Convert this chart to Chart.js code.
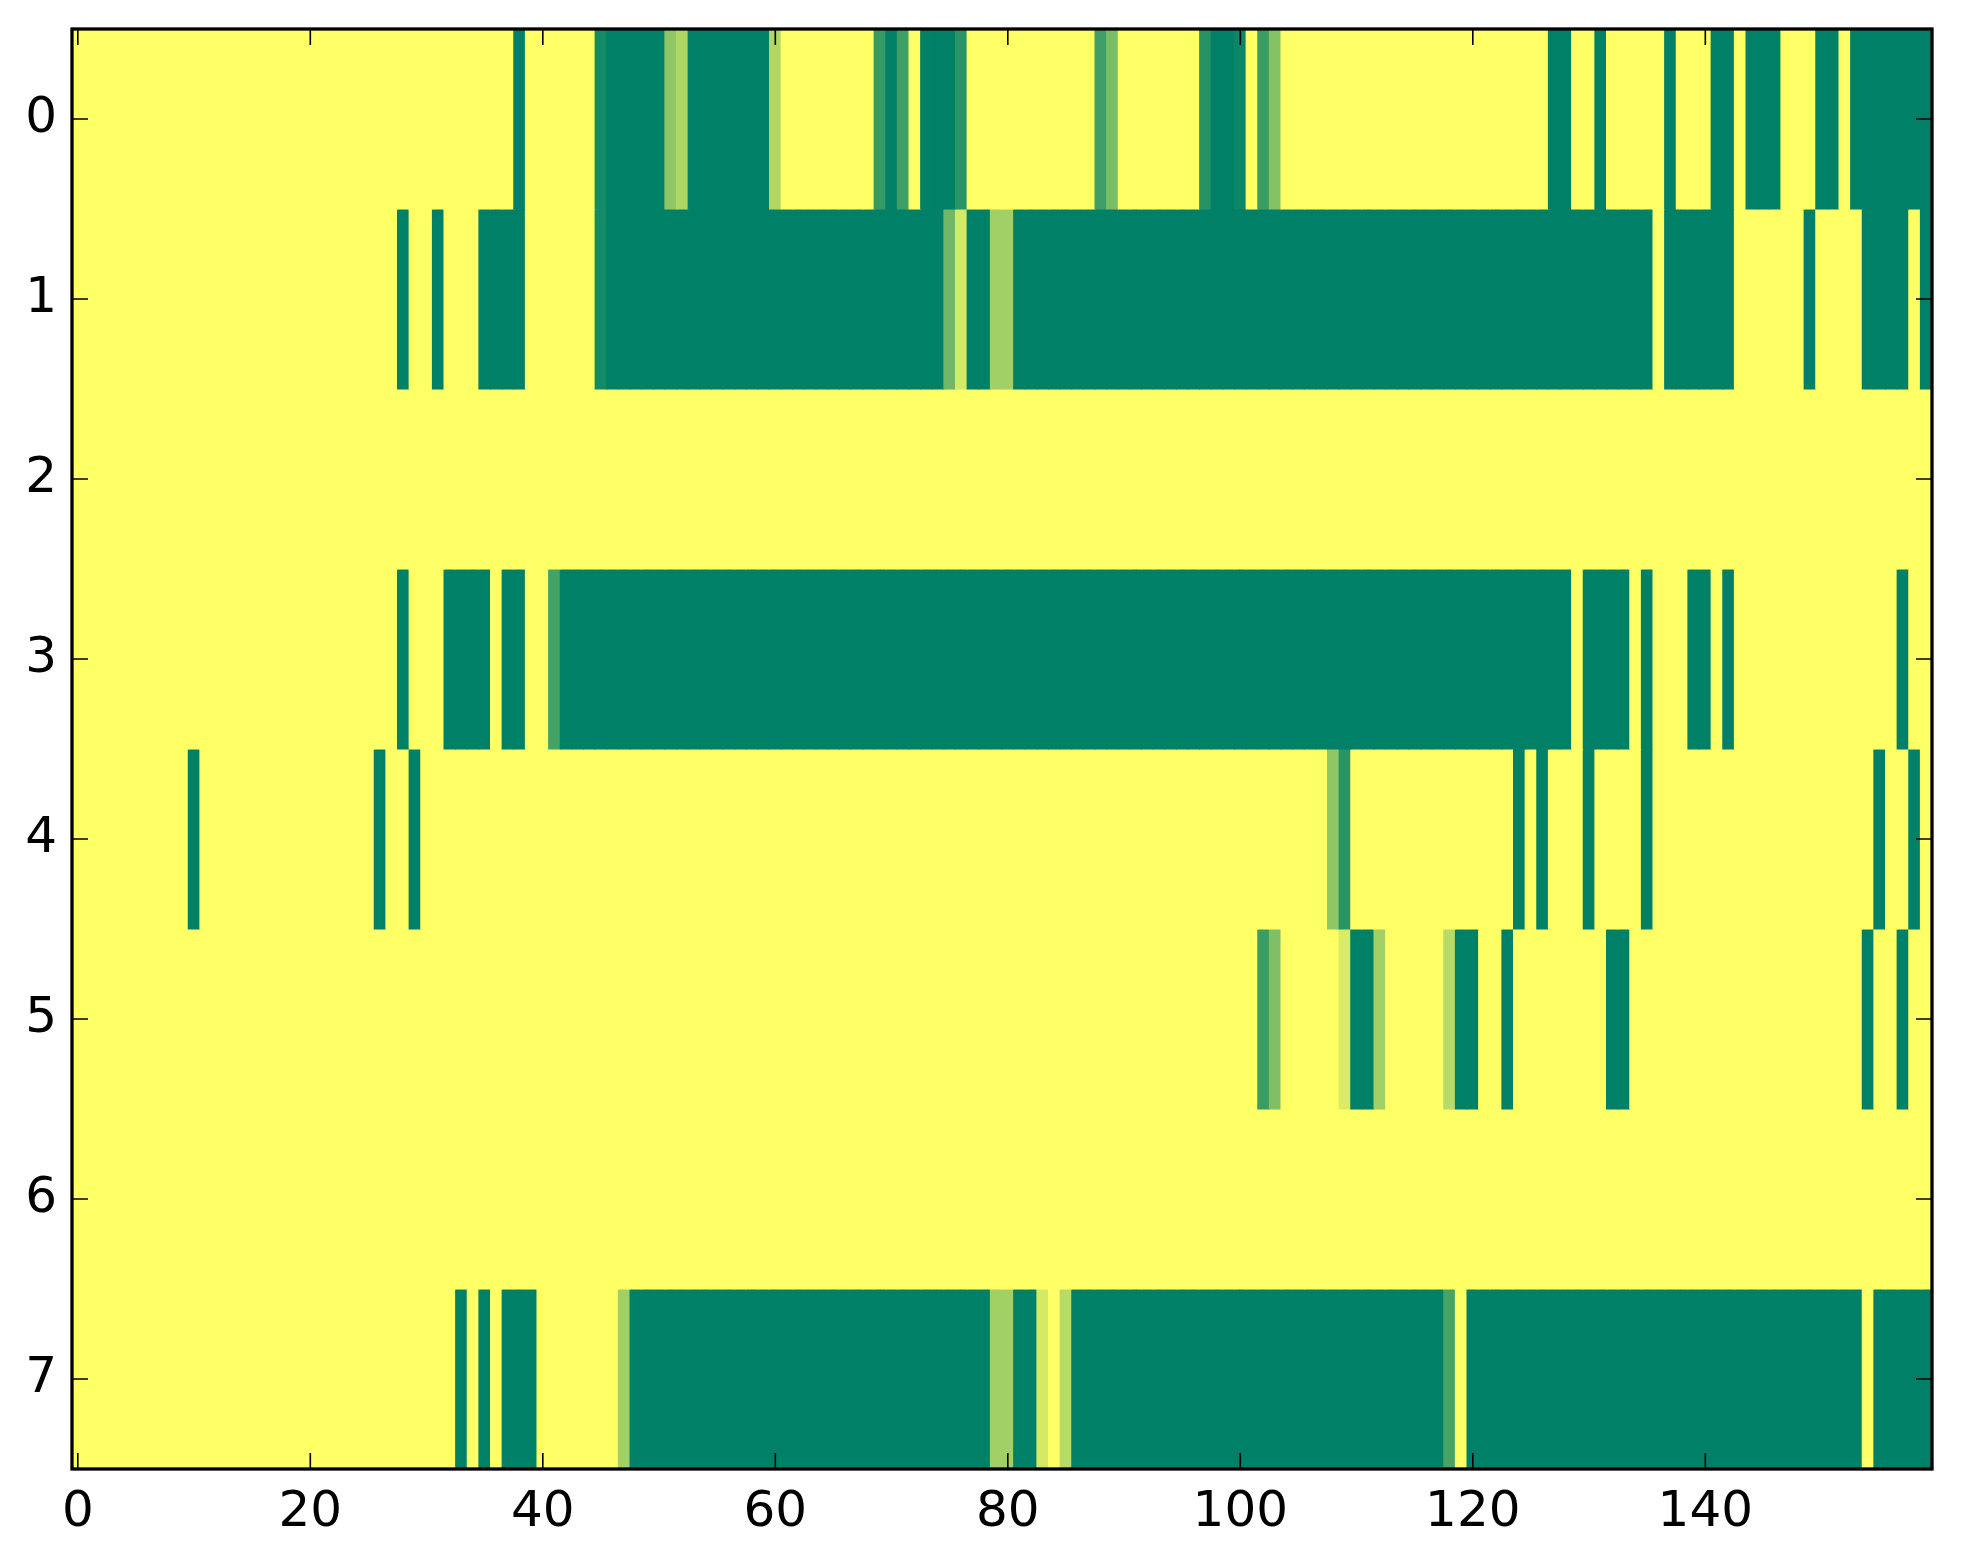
<!DOCTYPE html>
<html>
<head>
<meta charset="utf-8">
<script src="https://cdn.jsdelivr.net/npm/chart.js@4.4.1/dist/chart.umd.min.js"></script>
<style>
  html, body { margin: 0; padding: 0; background: #fff; }
  #wrap { width: 1963px; height: 1564px; }
</style>
</head>
<body>
<div id="wrap"><canvas id="heat"></canvas></div>
<script>
// tick labels
const xTicks = [0, 20, 40, 60, 80, 100, 120, 140];
const yTicks = [0, 1, 2, 3, 4, 5, 6, 7];

// one array per row, 160 columns each (0 = dark green, 1 = yellow)
const row0 = [
  1,1,1,1,1,1,1,1,1,1,1,1,1,1,1,1,1,1,1,1,
  1,1,1,1,1,1,1,1,1,1,1,1,1,1,1,1,1,1,0,1,
  1,1,1,1,1,0.08,0,0,0,0,0,0.56,0.69,0,0,0,0,0,0,0,
  0.69,1,1,1,1,1,1,1,1,0.21,0,0.25,1,0.02,0,0,0.16,1,1,1,
  1,1,1,1,1,1,1,1,0.25,0.48,1,1,1,1,1,1,1,0.15,0,0,
  0.05,1,0.23,0.52,1,1,1,1,1,1,1,1,1,1,1,1,1,1,1,1,
  1,1,1,1,1,1,1,0,0,1,1,0,1,1,1,1,1,0,1,1,
  1,0,0,1,0,0,0,1,1,1,0,0,1,0,0,0,0,0,0,0
];
const row1 = [
  1,1,1,1,1,1,1,1,1,1,1,1,1,1,1,1,1,1,1,1,
  1,1,1,1,1,1,1,1,0,1,1,0,1,1,1,0,0,0,0,1,
  1,1,1,1,1,0.08,0,0,0,0,0,0,0,0,0,0,0,0,0,0,
  0,0,0,0,0,0,0,0,0,0,0,0,0,0,0,0.44,0.83,0,0,0.63,
  0.63,0,0,0,0,0,0,0,0,0,0,0,0,0,0,0,0,0,0,0,
  0,0,0,0,0,0,0,0,0,0,0,0,0,0,0,0,0,0,0,0,
  0,0,0,0,0,0,0,0,0,0,0,0,0,0,0,0,1,0,0,0,
  0,0,0,1,1,1,1,1,1,0,1,1,1,1,0,0,0,0,1,0
];
const row2 = [
  1,1,1,1,1,1,1,1,1,1,1,1,1,1,1,1,1,1,1,1,
  1,1,1,1,1,1,1,1,1,1,1,1,1,1,1,1,1,1,1,1,
  1,1,1,1,1,1,1,1,1,1,1,1,1,1,1,1,1,1,1,1,
  1,1,1,1,1,1,1,1,1,1,1,1,1,1,1,1,1,1,1,1,
  1,1,1,1,1,1,1,1,1,1,1,1,1,1,1,1,1,1,1,1,
  1,1,1,1,1,1,1,1,1,1,1,1,1,1,1,1,1,1,1,1,
  1,1,1,1,1,1,1,1,1,1,1,1,1,1,1,1,1,1,1,1,
  1,1,1,1,1,1,1,1,1,1,1,1,1,1,1,1,1,1,1,1
];
const row3 = [
  1,1,1,1,1,1,1,1,1,1,1,1,1,1,1,1,1,1,1,1,
  1,1,1,1,1,1,1,1,0,1,1,1,0,0,0,0,1,0,0,1,
  1,0.27,0,0,0,0,0,0,0,0,0,0,0,0,0,0,0,0,0,0,
  0,0,0,0,0,0,0,0,0,0,0,0,0,0,0,0,0,0,0,0,
  0,0,0,0,0,0,0,0,0,0,0,0,0,0,0,0,0,0,0,0,
  0,0,0,0,0,0,0,0,0,0,0,0,0,0,0,0,0,0,0,0,
  0,0,0,0,0,0,0,0,0,1,0,0,0,0,1,0,1,1,1,0,
  0,1,0,1,1,1,1,1,1,1,1,1,1,1,1,1,1,0,1,1
];
const row4 = [
  1,1,1,1,1,1,1,1,1,1,0,1,1,1,1,1,1,1,1,1,
  1,1,1,1,1,1,0,1,1,0,1,1,1,1,1,1,1,1,1,1,
  1,1,1,1,1,1,1,1,1,1,1,1,1,1,1,1,1,1,1,1,
  1,1,1,1,1,1,1,1,1,1,1,1,1,1,1,1,1,1,1,1,
  1,1,1,1,1,1,1,1,1,1,1,1,1,1,1,1,1,1,1,1,
  1,1,1,1,1,1,1,1,0.56,0.16,1,1,1,1,1,1,1,1,1,1,
  1,1,1,1,0,1,0,1,1,1,0,1,1,1,1,0,1,1,1,1,
  1,1,1,1,1,1,1,1,1,1,1,1,1,1,1,0,1,1,0,1
];
const row5 = [
  1,1,1,1,1,1,1,1,1,1,1,1,1,1,1,1,1,1,1,1,
  1,1,1,1,1,1,1,1,1,1,1,1,1,1,1,1,1,1,1,1,
  1,1,1,1,1,1,1,1,1,1,1,1,1,1,1,1,1,1,1,1,
  1,1,1,1,1,1,1,1,1,1,1,1,1,1,1,1,1,1,1,1,
  1,1,1,1,1,1,1,1,1,1,1,1,1,1,1,1,1,1,1,1,
  1,1,0.23,0.5,1,1,1,1,1,0.85,0,0,0.63,1,1,1,1,1,0.72,0,
  0,1,1,0,1,1,1,1,1,1,1,1,0,0,1,1,1,1,1,1,
  1,1,1,1,1,1,1,1,1,1,1,1,1,1,0,1,1,0,1,1
];
const row6 = [
  1,1,1,1,1,1,1,1,1,1,1,1,1,1,1,1,1,1,1,1,
  1,1,1,1,1,1,1,1,1,1,1,1,1,1,1,1,1,1,1,1,
  1,1,1,1,1,1,1,1,1,1,1,1,1,1,1,1,1,1,1,1,
  1,1,1,1,1,1,1,1,1,1,1,1,1,1,1,1,1,1,1,1,
  1,1,1,1,1,1,1,1,1,1,1,1,1,1,1,1,1,1,1,1,
  1,1,1,1,1,1,1,1,1,1,1,1,1,1,1,1,1,1,1,1,
  1,1,1,1,1,1,1,1,1,1,1,1,1,1,1,1,1,1,1,1,
  1,1,1,1,1,1,1,1,1,1,1,1,1,1,1,1,1,1,1,1
];
const row7 = [
  1,1,1,1,1,1,1,1,1,1,1,1,1,1,1,1,1,1,1,1,
  1,1,1,1,1,1,1,1,1,1,1,1,1,0,1,0,1,0,0,0,
  1,1,1,1,1,1,1,0.63,0,0,0,0,0,0,0,0,0,0,0,0,
  0,0,0,0,0,0,0,0,0,0,0,0,0,0,0,0,0,0,0,0.63,
  0.63,0,0,0.83,1,0.72,0,0,0,0,0,0,0,0,0,0,0,0,0,0,
  0,0,0,0,0,0,0,0,0,0,0,0,0,0,0,0,0,0,0.28,1,
  0,0,0,0,0,0,0,0,0,0,0,0,0,0,0,0,0,0,0,0,
  0,0,0,0,0,0,0,0,0,0,0,0,0,0,1,0,0,0,0,0
];

const rows = [row0, row1, row2, row3, row4, row5, row6, row7];

// matplotlib "summer" colormap
function summer(v) {
  return 'rgb(' + Math.round(255 * v) + ',' + Math.round(127.5 + 127.5 * v) + ',102)';
}

// each row is a dataset of floating bars spanning [r-0.5, r+0.5]
const datasets = rows.map((vals, r) => ({
  label: 'row ' + r,
  data: vals.map((v, c) => ({ x: c, y: [r - 0.5, r + 0.5] })),
  backgroundColor: vals.map(summer),
  borderWidth: 0,
  inflateAmount: 0.5,
  barPercentage: 1,
  categoryPercentage: 1,
  grouped: false
}));

// frame and inward ticks on all four sides, like the classic matplotlib style
const frameTicks = {
  id: 'frameTicks',
  afterDraw(chart) {
    const { ctx, chartArea: a, scales: { x, y } } = chart;
    const len = 16;
    ctx.save();
    ctx.strokeStyle = '#000';
    ctx.lineWidth = 1.6;
    ctx.beginPath();
    xTicks.forEach(v => {
      const px = x.getPixelForValue(v);
      ctx.moveTo(px, a.bottom); ctx.lineTo(px, a.bottom - len);
      ctx.moveTo(px, a.top); ctx.lineTo(px, a.top + len);
    });
    yTicks.forEach(v => {
      const py = y.getPixelForValue(v);
      ctx.moveTo(a.left, py); ctx.lineTo(a.left + len, py);
      ctx.moveTo(a.right, py); ctx.lineTo(a.right - len, py);
    });
    ctx.stroke();
    ctx.lineWidth = 3.3;
    ctx.strokeRect(a.left, a.top, a.right - a.left, a.bottom - a.top);
    ctx.restore();
  }
};

const tickFont = { family: 'DejaVu Sans', size: 50 };

new Chart(document.getElementById('heat'), {
  type: 'bar',
  data: { datasets: datasets },
  plugins: [frameTicks],
  options: {
    responsive: true,
    maintainAspectRatio: false,
    devicePixelRatio: 1,
    animation: false,
    events: [],
    layout: { padding: { top: 29, right: 31, left: 0, bottom: 0 } },
    plugins: {
      legend: { display: false },
      tooltip: { enabled: false }
    },
    scales: {
      x: {
        type: 'linear',
        min: -0.5,
        max: 159.5,
        offset: false,
        grid: { display: false, drawTicks: false },
        border: { display: false },
        afterBuildTicks: s => { s.ticks = xTicks.map(v => ({ value: v })); },
        afterFit: s => { s.height = 95; s.paddingLeft = 0; s.paddingRight = 0; },
        ticks: { font: tickFont, color: '#000', padding: 14, autoSkip: false, maxRotation: 0 }
      },
      y: {
        type: 'linear',
        reverse: true,
        min: -0.5,
        max: 7.5,
        grid: { display: false, drawTicks: false },
        border: { display: false },
        afterBuildTicks: s => { s.ticks = yTicks.map(v => ({ value: v })); },
        afterFit: s => { s.width = 72; s.paddingTop = 0; s.paddingBottom = 0; },
        ticks: { font: tickFont, color: '#000', padding: 15 }
      }
    }
  }
});
</script>
</body>
</html>
